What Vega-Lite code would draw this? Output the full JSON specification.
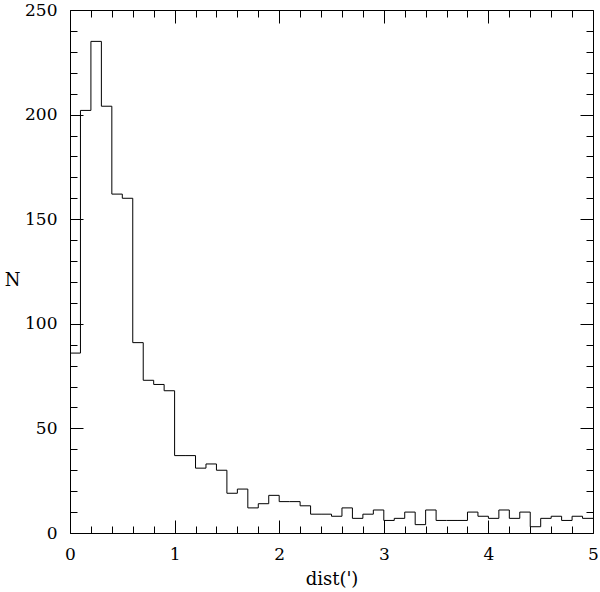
{
  "$schema": "https://vega.github.io/schema/vega-lite/v6.json",
  "width": 523,
  "height": 523,
  "autosize": "none",
  "padding": {"left": 70, "top": 10, "right": 7, "bottom": 59},
  "background": "white",
  "config": {
    "view": {"stroke": null},
    "axis": {
      "domainColor": "black",
      "tickColor": "black",
      "labelColor": "black",
      "titleColor": "black",
      "labelFont": "DejaVu Serif",
      "titleFont": "DejaVu Serif",
      "labelFontSize": 17,
      "titleFontSize": 18,
      "labelFontWeight": "normal",
      "titleFontWeight": "normal",
      "labelFlush": false,
      "labelOverlap": false,
      "grid": false,
      "domainWidth": 1,
      "tickWidth": 1
    }
  },
  "data": {
    "values": [
      {"dist": 0.0, "n": 86}, {"dist": 0.1, "n": 202}, {"dist": 0.2, "n": 235}, {"dist": 0.3, "n": 204},
      {"dist": 0.4, "n": 162}, {"dist": 0.5, "n": 160}, {"dist": 0.6, "n": 91}, {"dist": 0.7, "n": 73},
      {"dist": 0.8, "n": 71}, {"dist": 0.9, "n": 68}, {"dist": 1.0, "n": 37}, {"dist": 1.1, "n": 37},
      {"dist": 1.2, "n": 31}, {"dist": 1.3, "n": 33}, {"dist": 1.4, "n": 30}, {"dist": 1.5, "n": 19},
      {"dist": 1.6, "n": 21}, {"dist": 1.7, "n": 12}, {"dist": 1.8, "n": 14}, {"dist": 1.9, "n": 18},
      {"dist": 2.0, "n": 15}, {"dist": 2.1, "n": 15}, {"dist": 2.2, "n": 13}, {"dist": 2.3, "n": 9},
      {"dist": 2.4, "n": 9}, {"dist": 2.5, "n": 8}, {"dist": 2.6, "n": 12}, {"dist": 2.7, "n": 7},
      {"dist": 2.8, "n": 9}, {"dist": 2.9, "n": 11}, {"dist": 3.0, "n": 6}, {"dist": 3.1, "n": 7},
      {"dist": 3.2, "n": 10}, {"dist": 3.3, "n": 4}, {"dist": 3.4, "n": 11}, {"dist": 3.5, "n": 6},
      {"dist": 3.6, "n": 6}, {"dist": 3.7, "n": 6}, {"dist": 3.8, "n": 10}, {"dist": 3.9, "n": 8},
      {"dist": 4.0, "n": 7}, {"dist": 4.1, "n": 11}, {"dist": 4.2, "n": 7}, {"dist": 4.3, "n": 10},
      {"dist": 4.4, "n": 3}, {"dist": 4.5, "n": 7}, {"dist": 4.6, "n": 8}, {"dist": 4.7, "n": 6},
      {"dist": 4.8, "n": 8}, {"dist": 4.9, "n": 7}, {"dist": 5.0, "n": 7}
    ]
  },
  "resolve": {"axis": {"x": "independent", "y": "independent"}},
  "layer": [
    {
      "mark": {"type": "line", "interpolate": "step-after", "color": "black", "strokeWidth": 1},
      "encoding": {
        "x": {
          "field": "dist", "type": "quantitative",
          "scale": {"domain": [0, 5], "nice": false, "zero": false},
          "axis": {"orient": "bottom", "values": [0, 1, 2, 3, 4, 5], "tickSize": -13, "labelPadding": 26, "labelAngle": 0, "title": "dist(')", "titlePadding": 8}
        },
        "y": {
          "field": "n", "type": "quantitative",
          "scale": {"domain": [0, 250], "nice": false},
          "axis": {"orient": "left", "values": [0, 50, 100, 150, 200, 250], "tickSize": -13, "labelPadding": 26,
                   "title": "N", "titleAngle": 0, "titleX": -58, "titleY": 270, "titleAlign": "center", "titleBaseline": "middle"}
        }
      }
    },
    {
      "mark": {"type": "line", "interpolate": "step-after", "opacity": 0},
      "encoding": {
        "x": {
          "field": "dist", "type": "quantitative",
          "axis": {"orient": "bottom", "values": [0.2, 0.4, 0.6, 0.8, 1.2, 1.4, 1.6, 1.8, 2.2, 2.4, 2.6, 2.8, 3.2, 3.4, 3.6, 3.8, 4.2, 4.4, 4.6, 4.8], "tickSize": -7, "labels": false, "domain": false, "title": null}
        },
        "y": {
          "field": "n", "type": "quantitative",
          "axis": {"orient": "left", "values": [10, 20, 30, 40, 60, 70, 80, 90, 110, 120, 130, 140, 160, 170, 180, 190, 210, 220, 230, 240], "tickSize": -7, "labels": false, "domain": false, "title": null}
        }
      }
    },
    {
      "mark": {"type": "line", "interpolate": "step-after", "opacity": 0},
      "encoding": {
        "x": {
          "field": "dist", "type": "quantitative",
          "axis": {"orient": "top", "values": [0, 1, 2, 3, 4, 5], "tickSize": -13, "labels": false, "title": null}
        },
        "y": {
          "field": "n", "type": "quantitative",
          "axis": {"orient": "right", "values": [0, 50, 100, 150, 200, 250], "tickSize": -13, "labels": false, "title": null}
        }
      }
    },
    {
      "mark": {"type": "line", "interpolate": "step-after", "opacity": 0},
      "encoding": {
        "x": {
          "field": "dist", "type": "quantitative",
          "axis": {"orient": "top", "values": [0.2, 0.4, 0.6, 0.8, 1.2, 1.4, 1.6, 1.8, 2.2, 2.4, 2.6, 2.8, 3.2, 3.4, 3.6, 3.8, 4.2, 4.4, 4.6, 4.8], "tickSize": -7, "labels": false, "domain": false, "title": null}
        },
        "y": {
          "field": "n", "type": "quantitative",
          "axis": {"orient": "right", "values": [10, 20, 30, 40, 60, 70, 80, 90, 110, 120, 130, 140, 160, 170, 180, 190, 210, 220, 230, 240], "tickSize": -7, "labels": false, "domain": false, "title": null}
        }
      }
    }
  ]
}
